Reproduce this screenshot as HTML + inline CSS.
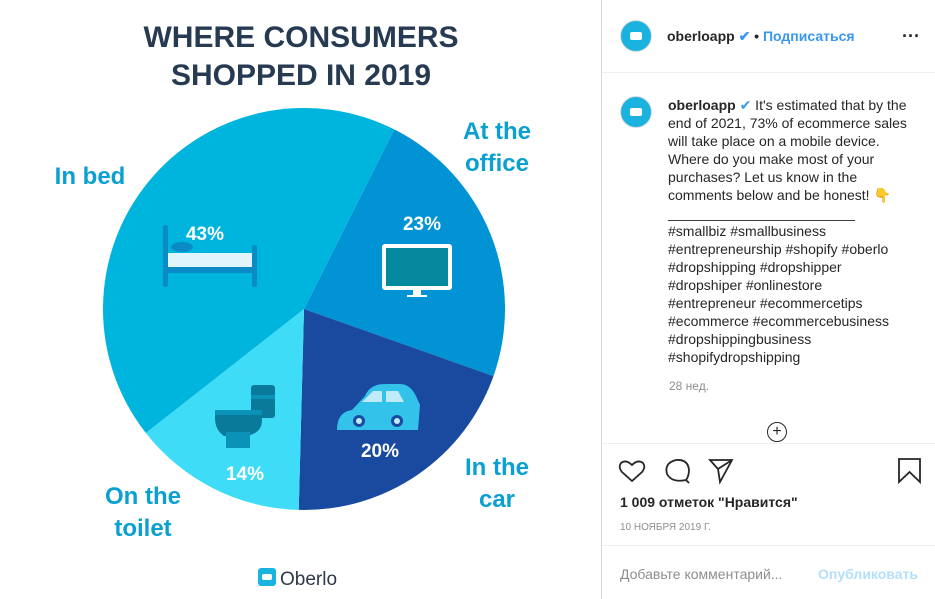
<!DOCTYPE html>
<html><head><meta charset="utf-8">
<style>
html,body{margin:0;padding:0;background:#fff;}
body{width:935px;height:599px;overflow:hidden;position:relative;font-family:"Liberation Sans","Noto Sans CJK SC",sans-serif;}
.rp{position:absolute;left:601px;top:0;width:334px;height:599px;border-left:1px solid #dbdbdb;background:#fff;}
.t{position:absolute;white-space:nowrap;}
.hl{position:absolute;left:0;width:334px;height:1px;background:#efefef;}
</style></head>
<body>
<svg id="chart" width="601" height="599" style="position:absolute;left:0;top:0" font-family="Liberation Sans, sans-serif">
  <text x="301" y="47" text-anchor="middle" font-size="30" font-weight="bold" fill="#263a52">WHERE CONSUMERS</text>
  <text x="301" y="85" text-anchor="middle" font-size="30" font-weight="bold" fill="#263a52">SHOPPED IN 2019</text>
  <g id="slices"></g>
  <g id="icons">
    <g fill="#0a8bc6">
      <rect x="163" y="225" width="5" height="62" rx="2"/>
      <rect x="252" y="245" width="5" height="42" rx="2"/>
      <rect x="166" y="266" width="88" height="7"/>
      <rect x="168" y="253" width="84" height="14" fill="#dff4fb"/>
      <ellipse cx="182" cy="247" rx="11" ry="5"/>
    </g>
    <g>
      <rect x="382" y="244" width="70" height="46" rx="3" fill="#fff"/>
      <rect x="386" y="248" width="62" height="38" fill="#05899f"/>
      <rect x="413" y="290" width="8" height="5" fill="#fff"/>
      <rect x="407" y="295" width="20" height="2" fill="#fff"/>
    </g>
    <g>
      <path d="M337 430 Q337 412 352 410 L365 396 Q370 384 385 384 L400 384 Q410 384 416 396 L420 405 Q418 430 418 430 Z" fill="#33c3ea"/>
      <path d="M362 402 L373 391 L382 391 L382 402 Z M386 391 L398 391 L404 402 L386 402 Z" fill="#bfeaf7"/>
      <circle cx="359" cy="421" r="6" fill="#1a4aa0"/><circle cx="359" cy="421" r="3" fill="#bfeaf7"/>
      <circle cx="397" cy="421" r="6" fill="#1a4aa0"/><circle cx="397" cy="421" r="3" fill="#bfeaf7"/>
    </g>
    <g>
      <rect x="251" y="385" width="24" height="33" rx="3" fill="#0a7a9a"/>
      <rect x="251" y="395" width="24" height="4" fill="#0a92b8"/>
      <path d="M215 410 L262 410 L262 420 Q262 434 245 436 L224 436 Q215 430 215 418 Z" fill="#0a7a9a"/>
      <rect x="215" y="410" width="47" height="5" fill="#0a92b8"/>
      <rect x="226" y="432" width="24" height="16" fill="#0a92b8"/>
    </g>
  </g>
  <g id="pctlabels"></g>
  <g font-size="24" font-weight="bold" fill="#0aa0d2">
    <text x="90" y="184" text-anchor="middle">In bed</text>
    <text x="497" y="139" text-anchor="middle">At the</text>
    <text x="497" y="171" text-anchor="middle">office</text>
    <text x="497" y="475" text-anchor="middle">In the</text>
    <text x="497" y="507" text-anchor="middle">car</text>
    <text x="143" y="504" text-anchor="middle">On the</text>
    <text x="143" y="536" text-anchor="middle">toilet</text>
  </g>
  <g>
    <rect x="258" y="568" width="18" height="18" rx="3" fill="#1ab3e0"/>
    <rect x="262" y="574" width="10" height="6" rx="2" fill="#fff"/>
    <text x="280" y="585" font-size="19" fill="#2d3a4a">Oberlo</text>
  </g>
</svg>

<div class="rp">
  <div style="position:absolute;left:18px;top:20px;width:30px;height:30px;border-radius:50%;background:#1ab3e0;border:1px solid #ddd;"><div style="position:absolute;left:9px;top:11px;width:12px;height:8px;background:#fff;border-radius:2px"></div></div>
  <div class="t" style="left:65px;top:28px;font-size:14px;font-weight:bold;color:#262626">oberloapp <span style="color:#3897f0">✔</span> • <span style="color:#3897f0;font-weight:bold">Подписаться</span></div>
  <div class="t" style="left:300px;top:26px;font-size:18px;font-weight:bold;color:#262626">···</div>
  <div class="hl" style="top:72px"></div>
  <div style="position:absolute;left:18px;top:96px;width:30px;height:30px;border-radius:50%;background:#1ab3e0;border:1px solid #ddd;"><div style="position:absolute;left:9px;top:11px;width:12px;height:8px;background:#fff;border-radius:2px"></div></div>
  <div class="t" style="left:66px;top:96px;font-size:14px;line-height:18px;color:#262626"><b>oberloapp</b> <span style="color:#3897f0">✔</span> It's estimated that by the<br>end of 2021, 73% of ecommerce sales<br>will take place on a mobile device.<br>Where do you make most of your<br>purchases? Let us know in the<br>comments below and be honest! <span style="color:#f5b400">👇</span><br>________________________<br>#smallbiz #smallbusiness<br>#entrepreneurship #shopify #oberlo<br>#dropshipping #dropshipper<br>#dropshiper #onlinestore<br>#entrepreneur #ecommercetips<br>#ecommerce #ecommercebusiness<br>#dropshippingbusiness<br>#shopifydropshipping</div>
  <div class="t" style="left:67px;top:379px;font-size:12px;color:#8e8e8e">28 нед.</div>
  <div style="position:absolute;left:165px;top:422px;width:20px;height:20px;border:1px solid #262626;border-radius:50%;box-sizing:border-box;text-align:center;line-height:18px;font-size:16px;color:#262626">+</div>
  <div class="hl" style="top:443px"></div>
  <svg style="position:absolute;left:0;top:455px" width="334" height="32" fill="none" stroke="#262626" stroke-width="1.8">
    <path d="M30 26 L20 17 Q16 12 19 8 Q24 4 30 10 Q36 4 41 8 Q44 12 40 17 Z"/>
    <path d="M84 25 Q70 28 65 19 Q62 8 74 5 Q86 4 87 15 Q87 21 84 25 L87 28 Z"/>
    <path d="M108 5 L130 5 L118 27 L116 14 Z M116 14 L130 5"/>
    <path d="M297 4 L318 4 L318 27 L307.5 17 L297 27 Z"/>
  </svg>
  <div class="t" style="left:18px;top:494px;font-size:14px;font-weight:bold;color:#262626">1 009 отметок "Нравится"</div>
  <div class="t" style="left:18px;top:522px;font-size:10px;color:#8e8e8e">10 НОЯБРЯ 2019 Г.</div>
  <div class="hl" style="top:545px"></div>
  <div class="t" style="left:18px;top:566px;font-size:14px;color:#8e8e8e">Добавьте комментарий...</div>
  <div class="t" style="left:216px;top:566px;font-size:14px;font-weight:bold;color:#b2dffc">Опубликовать</div>
</div>

<script>
const categories = ["Office", "Car", "Toilet", "Bed"];
const values = [23, 20, 14, 43];
const pctLabels = ["23%", "20%", "14%", "43%"];
const colors = ["#0193d4", "#1a4aa0", "#3edcf6", "#00b5dd"];
const cx = 304, cy = 309, r = 201, startDeg = 26.7;
const total = values.reduce((a, b) => a + b, 0);
function pt(deg, rad) { const a = (deg - 90) * Math.PI / 180; return [cx + rad * Math.cos(a), cy + rad * Math.sin(a)]; }
const NS = "http://www.w3.org/2000/svg";
const gS = document.getElementById("slices"), gL = document.getElementById("pctlabels");
let a0 = startDeg;
const labelAnchors = [[422, 230], [380, 457], [245, 480], [205, 240]];
values.forEach((v, i) => {
  const sweep = v / total * 360, a1 = a0 + sweep;
  const p0 = pt(a0, r), p1 = pt(a1, r);
  const path = document.createElementNS(NS, "path");
  path.setAttribute("d", `M${cx},${cy} L${p0[0]},${p0[1]} A${r},${r} 0 ${sweep > 180 ? 1 : 0} 1 ${p1[0]},${p1[1]} Z`);
  path.setAttribute("fill", colors[i]);
  
  
  gS.appendChild(path);
  const t = document.createElementNS(NS, "text");
  t.setAttribute("x", labelAnchors[i][0]); t.setAttribute("y", labelAnchors[i][1]);
  t.setAttribute("text-anchor", "middle"); t.setAttribute("font-size", "19");
  t.setAttribute("font-weight", "bold"); t.setAttribute("fill", "#fff");
  t.textContent = pctLabels[i];
  
  
  gL.appendChild(t);
  a0 = a1;
});
</script>
</body></html>
